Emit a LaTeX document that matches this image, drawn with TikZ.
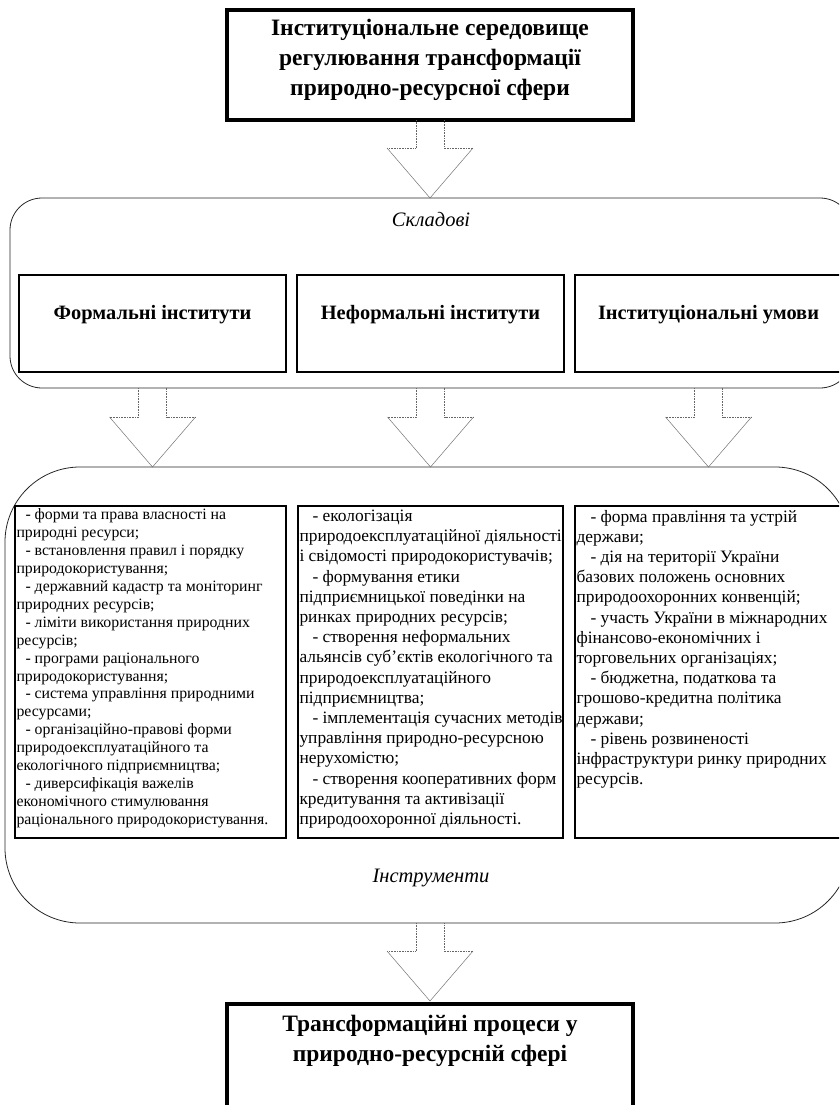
\documentclass[tikz,border=0pt]{standalone}
\usepackage{fontspec}
\setmainfont{Liberation Serif}
\usetikzlibrary{calc}
\tikzset{
  every node/.style={inner sep=0pt, outer sep=0pt},
  heavybox/.style={draw, line width=3.4pt, rectangle},
  compbox/.style={draw, line width=1.6pt, rectangle},
  listbox/.style={draw, line width=1.4pt, rectangle},
  roundframe/.style={draw=black!85, line width=0.8pt, rectangle},
  listtext/.style={anchor=north west, align=left, font=\fontsize{15.8}{17.9}\selectfont},
  listtextbig/.style={anchor=north west, align=left, font=\fontsize{17.4}{20.2}\selectfont},
  headtext/.style={align=center, font=\bfseries\fontsize{23.5}{30}\selectfont},
  comptext/.style={font=\bfseries\fontsize{20.4}{24}\selectfont},
  captext/.style={font=\itshape\fontsize{20.5}{24}\selectfont},
  arrowdot/.style={draw=black!60, line width=0.6pt, densely dotted},
  arrowline/.style={draw=black!55, line width=0.5pt},
}
\newcommand{\blockarrow}[2]{%
  \draw[arrowdot] ($(#1)+(-14,0)$) -- ($(#2)+(-14,-50)$) -- ($(#2)+(-43,-50)$);
  \draw[arrowline] ($(#2)+(-43,-50)$) -- (#2) -- ($(#2)+(43,-50)$);
  \draw[arrowdot] ($(#2)+(43,-50)$) -- ($(#2)+(14,-50)$) -- ($(#1)+(14,0)$);
}
\begin{document}
\begin{tikzpicture}[x=1pt, y=-1pt]
\useasboundingbox (0,0) rectangle (839,1105);
\clip (0,0) rectangle (839,1105);

% top box
\node[heavybox, minimum width=406pt, minimum height=110pt] (top) at (430,65) {};
\node[headtext, anchor=north] (toptxt) at (430,19) {Інституціональне середовище\\регулювання трансформації\\природно-ресурсної сфери};

% components frame
\node[roundframe, rounded corners=32pt, minimum width=842pt, minimum height=190pt] (skl) at (431,293) {};
\node[captext] (skllbl) at (431,219) {Складові};
\node[compbox, minimum width=267pt, minimum height=97pt] (c1) at (152.5,323.5) {};
\node[compbox, minimum width=267pt, minimum height=97pt] (c2) at (430.5,323.5) {};
\node[compbox, minimum width=267pt, minimum height=97pt] (c3) at (708.5,323.5) {};
\node[comptext] (c1t) at (152.5,315) {Формальні інститути};
\node[comptext] (c2t) at (430.5,315) {Неформальні інститути};
\node[comptext] (c3t) at (708.5,315) {Інституціональні умови};

% instruments frame
\node[roundframe, rounded corners=75pt, minimum width=845pt, minimum height=456pt] (instr) at (427.5,695) {};
\node[captext] (instrlbl) at (431,878) {Інструменти};
\node[listbox, minimum width=271pt, minimum height=332pt] (l1) at (150.5,672) {};
\node[listbox, minimum width=265pt, minimum height=332pt] (l2) at (430.5,672) {};
\node[listbox, minimum width=267pt, minimum height=332pt] (l3) at (708.5,672) {};

\node[listtext] (l1t) at ($(l1.north west)+(1.5,3)$) {%
\hspace*{9pt}- форми та права власності на\\
природні ресурси;\\
\hspace*{9pt}- встановлення правил і порядку\\
природокористування;\\
\hspace*{9pt}- державний кадастр та моніторинг\\
природних ресурсів;\\
\hspace*{9pt}- ліміти використання природних\\
ресурсів;\\
\hspace*{9pt}- програми раціонального\\
природокористування;\\
\hspace*{9pt}- система управління природними\\
ресурсами;\\
\hspace*{9pt}- організаційно-правові форми\\
природоексплуатаційного та\\
екологічного підприємництва;\\
\hspace*{9pt}- диверсифікація важелів\\
економічного стимулювання\\
раціонального природокористування.};

\node[listtextbig] (l2t) at ($(l2.north west)+(1.5,4)$) {%
\hspace*{13pt}- екологізація\\
природоексплуатаційної діяльності\\
і свідомості природокористувачів;\\
\hspace*{13pt}- формування етики\\
підприємницької поведінки на\\
ринках природних ресурсів;\\
\hspace*{13pt}- створення неформальних\\
альянсів суб’єктів екологічного та\\
природоексплуатаційного\\
підприємництва;\\
\hspace*{13pt}- імплементація сучасних методів\\
управління природно-ресурсною\\
нерухомістю;\\
\hspace*{13pt}- створення кооперативних форм\\
кредитування та активізації\\
природоохоронної діяльності.};

\node[listtextbig] (l3t) at ($(l3.north west)+(1.5,4)$) {%
\hspace*{14pt}- форма правління та устрій\\
держави;\\
\hspace*{14pt}- дія на території України\\
базових положень основних\\
природоохоронних конвенцій;\\
\hspace*{14pt}- участь України в міжнародних\\
фінансово-економічних і\\
торговельних організаціях;\\
\hspace*{14pt}- бюджетна, податкова та\\
грошово-кредитна політика\\
держави;\\
\hspace*{14pt}- рівень розвиненості\\
інфраструктури ринку природних\\
ресурсів.};

% bottom box
\node[heavybox, minimum width=406pt, minimum height=116pt] (bot) at (430,1062) {};
\node[headtext, anchor=north] (bottxt) at (430,1015) {Трансформаційні процеси у\\природно-ресурсній сфері};

% block arrows
\coordinate (a1s) at (top.south);
\coordinate (a1e) at (top.south |- skl.north);
\blockarrow{a1s}{a1e}
\coordinate (a2s) at (c1.south |- skl.south);
\coordinate (a2e) at (c1.south |- instr.north);
\blockarrow{a2s}{a2e}
\coordinate (a3s) at (c2.south |- skl.south);
\coordinate (a3e) at (c2.south |- instr.north);
\blockarrow{a3s}{a3e}
\coordinate (a4s) at (c3.south |- skl.south);
\coordinate (a4e) at (c3.south |- instr.north);
\blockarrow{a4s}{a4e}
\coordinate (a5s) at (bot.north |- instr.south);
\coordinate (a5e) at ($(bot.north)+(0,-3)$);
\blockarrow{a5s}{a5e}
\end{tikzpicture}
\end{document}
